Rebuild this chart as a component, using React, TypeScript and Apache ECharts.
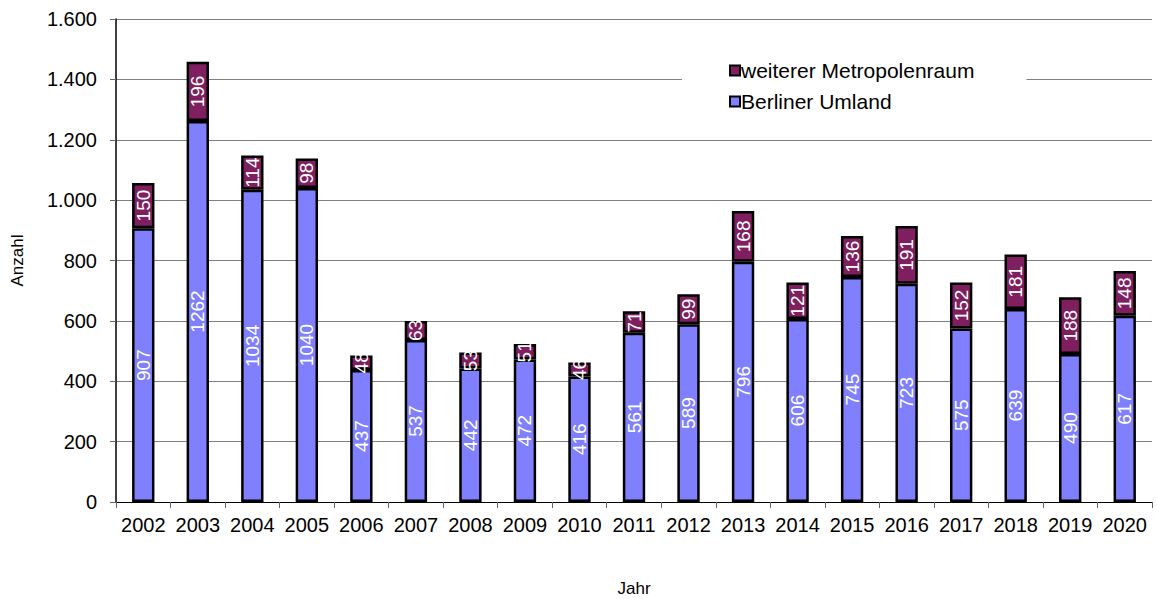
import React, { useEffect, useRef } from "react";
import * as echarts from "echarts";

const years = ["2002","2003","2004","2005","2006","2007","2008","2009","2010","2011","2012","2013","2014","2015","2016","2017","2018","2019","2020"];
const umland = [907,1262,1034,1040,437,537,442,472,416,561,589,796,606,745,723,575,639,490,617];
const metro = [150,196,114,98,48,63,53,51,46,71,99,168,121,136,191,152,181,188,148];
const yTicks = { min: 0, max: 1600, interval: 200 };

const FONT = "Liberation Sans, Arial, sans-serif";

function fmt(v: number) {
  return String(v).replace(/\B(?=(\d{3})+(?!\d))/g, ".");
}

export default function App() {
  const ref = useRef<HTMLDivElement>(null);
  useEffect(() => {
    const chart = echarts.init(ref.current!, null, { renderer: "svg" });
    const label = {
      show: true,
      position: "inside" as const,
      rotate: 90,
      color: "#fff",
      fontSize: 19,
      fontFamily: FONT,
    };
    chart.setOption({
      animation: false,
      textStyle: { fontFamily: FONT },
      grid: { left: 116, width: 1036, top: 19, height: 483, containLabel: false, outerBoundsMode: "none" },
      legend: {
        orient: "vertical",
        left: 682,
        top: 50,
        padding: [10, 52, 10, 47],
        backgroundColor: "#fff",
        itemWidth: 10,
        itemHeight: 10,
        itemGap: 10,
        icon: "rect",
        itemStyle: { borderColor: "#000", borderWidth: 2 },
        textStyle: { fontSize: 21, color: "#000", fontFamily: FONT, padding: [0, 0, 0, -4] },
        data: ["weiterer Metropolenraum", "Berliner Umland"],
      },
      xAxis: {
        type: "category",
        data: years,
        name: "Jahr",
        nameLocation: "middle",
        nameGap: 78,
        nameTextStyle: { fontSize: 17, color: "#000", fontFamily: FONT },
        axisLine: { lineStyle: { color: "#000", width: 1 } },
        axisTick: { show: true, alignWithLabel: false, length: 6, lineStyle: { color: "#666" } },
        axisLabel: { fontSize: 20, color: "#000", margin: 13, fontFamily: FONT, interval: 0 },
      },
      yAxis: {
        type: "value",
        min: yTicks.min,
        max: yTicks.max,
        interval: yTicks.interval,
        name: "Anzahl",
        nameLocation: "middle",
        nameGap: 90,
        nameRotate: 90,
        nameTextStyle: { fontSize: 17, color: "#000", fontFamily: FONT },
        axisLine: { show: true, lineStyle: { color: "#000", width: 1.5 } },
        axisTick: { show: true, length: 6, lineStyle: { color: "#666" } },
        axisLabel: { fontSize: 20, color: "#000", margin: 19, fontFamily: FONT, formatter: (v: number) => fmt(v) },
        splitLine: { show: true, lineStyle: { color: "#808080", width: 1 } },
      },
      series: [
        {
          name: "Berliner Umland",
          type: "bar",
          stack: "total",
          barWidth: "41%",
          data: umland,
          itemStyle: { color: "#8080FF", borderColor: "#000", borderWidth: 2.5 },
          label,
        },
        {
          name: "weiterer Metropolenraum",
          type: "bar",
          stack: "total",
          barWidth: "41%",
          data: metro,
          itemStyle: { color: "#7F1F5F", borderColor: "#000", borderWidth: 2.5 },
          label,
        },
      ],
    });
    return () => chart.dispose();
  }, []);
  return (
    <div
      ref={ref}
      style={{ position: "fixed", left: 0, top: 0, width: 1157, height: 599, background: "#fff" }}
    />
  );
}
